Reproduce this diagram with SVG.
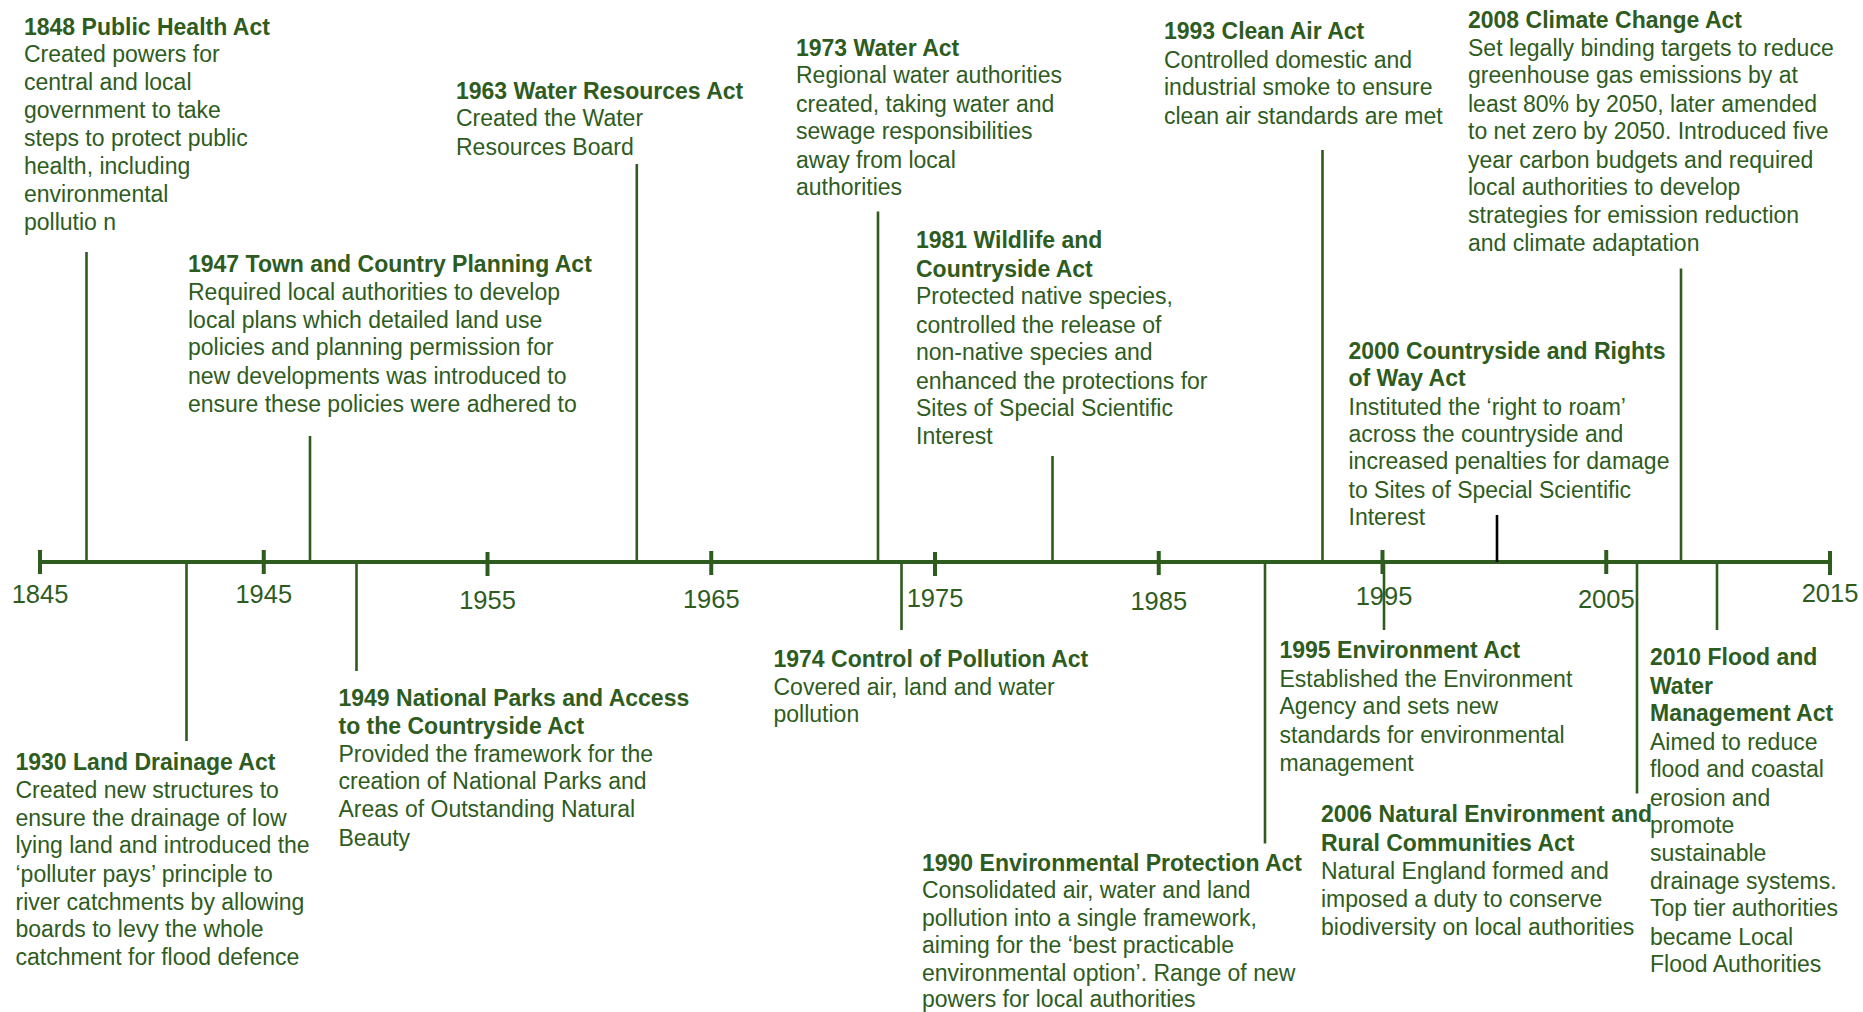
<svg xmlns="http://www.w3.org/2000/svg" width="1863" height="1012" viewBox="0 0 1863 1012">
<style>
text{font-family:"Liberation Sans",Arial,sans-serif;fill:#2e5c1e;font-size:23px}
.t{font-weight:bold}
.yr{font-size:25.5px;text-anchor:middle}
.c{stroke:#2e5c1e;stroke-width:2.6;fill:none}
.k{stroke:#000;stroke-width:2.6}
.ax{stroke:#2e5c1e;stroke-width:4;fill:none}
.tk{stroke:#2e5c1e;stroke-width:4}
</style>
<rect width="1863" height="1012" fill="#fff"/>
<g id="axis">
<line class="ax" x1="40" y1="562" x2="1830" y2="562"/>
<line class="tk" x1="40" y1="550" x2="40" y2="574"/>
<line class="tk" x1="263.75" y1="550" x2="263.75" y2="574"/>
<line class="tk" x1="487.5" y1="552" x2="487.5" y2="576"/>
<line class="tk" x1="711.25" y1="551" x2="711.25" y2="575"/>
<line class="tk" x1="935" y1="552" x2="935" y2="576"/>
<line class="tk" x1="1158.75" y1="551" x2="1158.75" y2="575"/>
<line class="tk" x1="1382.5" y1="550" x2="1382.5" y2="574"/>
<line class="tk" x1="1606.25" y1="550" x2="1606.25" y2="574"/>
<line class="tk" x1="1830" y1="551" x2="1830" y2="575"/>
<text class="yr" x="40" y="603">1845</text>
<text class="yr" x="263.75" y="603">1945</text>
<text class="yr" x="487.5" y="609">1955</text>
<text class="yr" x="711.25" y="608">1965</text>
<text class="yr" x="935" y="606.5">1975</text>
<text class="yr" x="1158.75" y="610">1985</text>
<text class="yr" x="1384" y="605">1995</text>
<text class="yr" x="1606.25" y="608">2005</text>
<text class="yr" x="1830" y="602">2015</text>
</g>
<g id="connectors">
<line class="c" x1="86.5" y1="252" x2="86.5" y2="562"/>
<line class="c" x1="186.5" y1="562" x2="186.5" y2="741"/>
<line class="c" x1="310" y1="436" x2="310" y2="562"/>
<line class="c" x1="356.5" y1="562" x2="356.5" y2="671"/>
<line class="c" x1="636.8" y1="164" x2="636.8" y2="562"/>
<line class="c" x1="878" y1="211.5" x2="878" y2="562"/>
<line class="c" x1="901.5" y1="562" x2="901.5" y2="630"/>
<line class="c" x1="1052.5" y1="456" x2="1052.5" y2="562"/>
<line class="c" x1="1265" y1="562" x2="1265" y2="843.5"/>
<line class="c" x1="1322.5" y1="150" x2="1322.5" y2="562"/>
<line class="c" x1="1384" y1="562" x2="1384" y2="630"/>
<line class="k" x1="1497" y1="515" x2="1497" y2="562"/>
<line class="c" x1="1637" y1="562" x2="1637" y2="793.5"/>
<line class="c" x1="1681" y1="268.5" x2="1681" y2="562"/>
<line class="c" x1="1717" y1="562" x2="1717" y2="630"/>
</g>
<g id="act1848">
<text class="t" x="24" y="34.5">1848 Public Health Act</text>
<text x="24"><tspan x="24" y="62">Created powers for</tspan><tspan x="24" y="90">central and local</tspan><tspan x="24" y="118">government to take</tspan><tspan x="24" y="146">steps to protect public</tspan><tspan x="24" y="174">health, including</tspan><tspan x="24" y="202">environmental</tspan><tspan x="24" y="230">pollutio n</tspan></text>
</g>
<g id="act1930">
<text class="t" x="15.5" y="770">1930 Land Drainage Act</text>
<text><tspan x="15.5" y="798">Created new structures to</tspan><tspan x="15.5" y="826">ensure the drainage of low</tspan><tspan x="15.5" y="853">lying land and introduced the</tspan><tspan x="15.5" y="881.5">‘polluter pays’ principle to</tspan><tspan x="15.5" y="910">river catchments by allowing</tspan><tspan x="15.5" y="937">boards to levy the whole</tspan><tspan x="15.5" y="965">catchment for flood defence</tspan></text>
</g>
<g id="act1947">
<text class="t" x="188" y="272">1947 Town and Country Planning Act</text>
<text><tspan x="188" y="299.5">Required local authorities to develop</tspan><tspan x="188" y="328">local plans which detailed land use</tspan><tspan x="188" y="355">policies and planning permission for</tspan><tspan x="188" y="383.5">new developments was introduced to</tspan><tspan x="188" y="412">ensure these policies were adhered to</tspan></text>
</g>
<g id="act1949">
<text class="t"><tspan x="338.5" y="705.5">1949 National Parks and Access</tspan><tspan x="338.5" y="734">to the Countryside Act</tspan></text>
<text><tspan x="338.5" y="761.5">Provided the framework for the</tspan><tspan x="338.5" y="789">creation of National Parks and</tspan><tspan x="338.5" y="817">Areas of Outstanding Natural</tspan><tspan x="338.5" y="846">Beauty</tspan></text>
</g>
<g id="act1963">
<text class="t" x="456" y="98.5">1963 Water Resources Act</text>
<text><tspan x="456" y="126">Created the Water</tspan><tspan x="456" y="154.5">Resources Board</tspan></text>
</g>
<g id="act1973">
<text class="t" x="796" y="56">1973 Water Act</text>
<text><tspan x="796" y="83">Regional water authorities</tspan><tspan x="796" y="111.5">created, taking water and</tspan><tspan x="796" y="139">sewage responsibilities</tspan><tspan x="796" y="167.5">away from local</tspan><tspan x="796" y="195">authorities</tspan></text>
</g>
<g id="act1974">
<text class="t" x="773.5" y="666.5">1974 Control of Pollution Act</text>
<text><tspan x="773.5" y="695">Covered air, land and water</tspan><tspan x="773.5" y="722">pollution</tspan></text>
</g>
<g id="act1981">
<text class="t"><tspan x="916" y="248">1981 Wildlife and</tspan><tspan x="916" y="277">Countryside Act</tspan></text>
<text><tspan x="916" y="304">Protected native species,</tspan><tspan x="916" y="332.5">controlled the release of</tspan><tspan x="916" y="360">non-native species and</tspan><tspan x="916" y="388.5">enhanced the protections for</tspan><tspan x="916" y="416">Sites of Special Scientific</tspan><tspan x="916" y="444">Interest</tspan></text>
</g>
<g id="act1990">
<text class="t" x="922" y="871">1990 Environmental Protection Act</text>
<text><tspan x="922" y="898">Consolidated air, water and land</tspan><tspan x="922" y="926">pollution into a single framework,</tspan><tspan x="922" y="953">aiming for the ‘best practicable</tspan><tspan x="922" y="980.5">environmental option’. Range of new</tspan><tspan x="922" y="1006.5">powers for local authorities</tspan></text>
</g>
<g id="act1993">
<text class="t" x="1164" y="39">1993 Clean Air Act</text>
<text><tspan x="1164" y="67.5">Controlled domestic and</tspan><tspan x="1164" y="95">industrial smoke to ensure</tspan><tspan x="1164" y="123.5">clean air standards are met</tspan></text>
</g>
<g id="act1995">
<text class="t" x="1279.5" y="658">1995 Environment Act</text>
<text><tspan x="1279.5" y="686.5">Established the Environment</tspan><tspan x="1279.5" y="714">Agency and sets new</tspan><tspan x="1279.5" y="742.5">standards for environmental</tspan><tspan x="1279.5" y="771">management</tspan></text>
</g>
<g id="act2000">
<text class="t"><tspan x="1348.5" y="359">2000 Countryside and Rights</tspan><tspan x="1348.5" y="386">of Way Act</tspan></text>
<text><tspan x="1348.5" y="414.5">Instituted the ‘right to roam’</tspan><tspan x="1348.5" y="442">across the countryside and</tspan><tspan x="1348.5" y="469">increased penalties for damage</tspan><tspan x="1348.5" y="497.5">to Sites of Special Scientific</tspan><tspan x="1348.5" y="525">Interest</tspan></text>
</g>
<g id="act2006">
<text class="t"><tspan x="1321" y="822">2006 Natural Environment and</tspan><tspan x="1321" y="850.5">Rural Communities Act</tspan></text>
<text><tspan x="1321" y="879">Natural England formed and</tspan><tspan x="1321" y="906.5">imposed a duty to conserve</tspan><tspan x="1321" y="935">biodiversity on local authorities</tspan></text>
</g>
<g id="act2008">
<text class="t" x="1468" y="27.5">2008 Climate Change Act</text>
<text><tspan x="1468" y="56">Set legally binding targets to reduce</tspan><tspan x="1468" y="83">greenhouse gas emissions by at</tspan><tspan x="1468" y="111.5">least 80% by 2050, later amended</tspan><tspan x="1468" y="139">to net zero by 2050. Introduced five</tspan><tspan x="1468" y="167.5">year carbon budgets and required</tspan><tspan x="1468" y="195">local authorities to develop</tspan><tspan x="1468" y="223">strategies for emission reduction</tspan><tspan x="1468" y="250.5">and climate adaptation</tspan></text>
</g>
<g id="act2010">
<text class="t"><tspan x="1650" y="665">2010 Flood and</tspan><tspan x="1650" y="694">Water</tspan><tspan x="1650" y="721">Management Act</tspan></text>
<text><tspan x="1650" y="750">Aimed to reduce</tspan><tspan x="1650" y="777">flood and coastal</tspan><tspan x="1650" y="805.5">erosion and</tspan><tspan x="1650" y="833">promote</tspan><tspan x="1650" y="861">sustainable</tspan><tspan x="1650" y="888.5">drainage systems.</tspan><tspan x="1650" y="916">Top tier authorities</tspan><tspan x="1650" y="944.5">became Local</tspan><tspan x="1650" y="972">Flood Authorities</tspan></text>
</g>
</svg>
